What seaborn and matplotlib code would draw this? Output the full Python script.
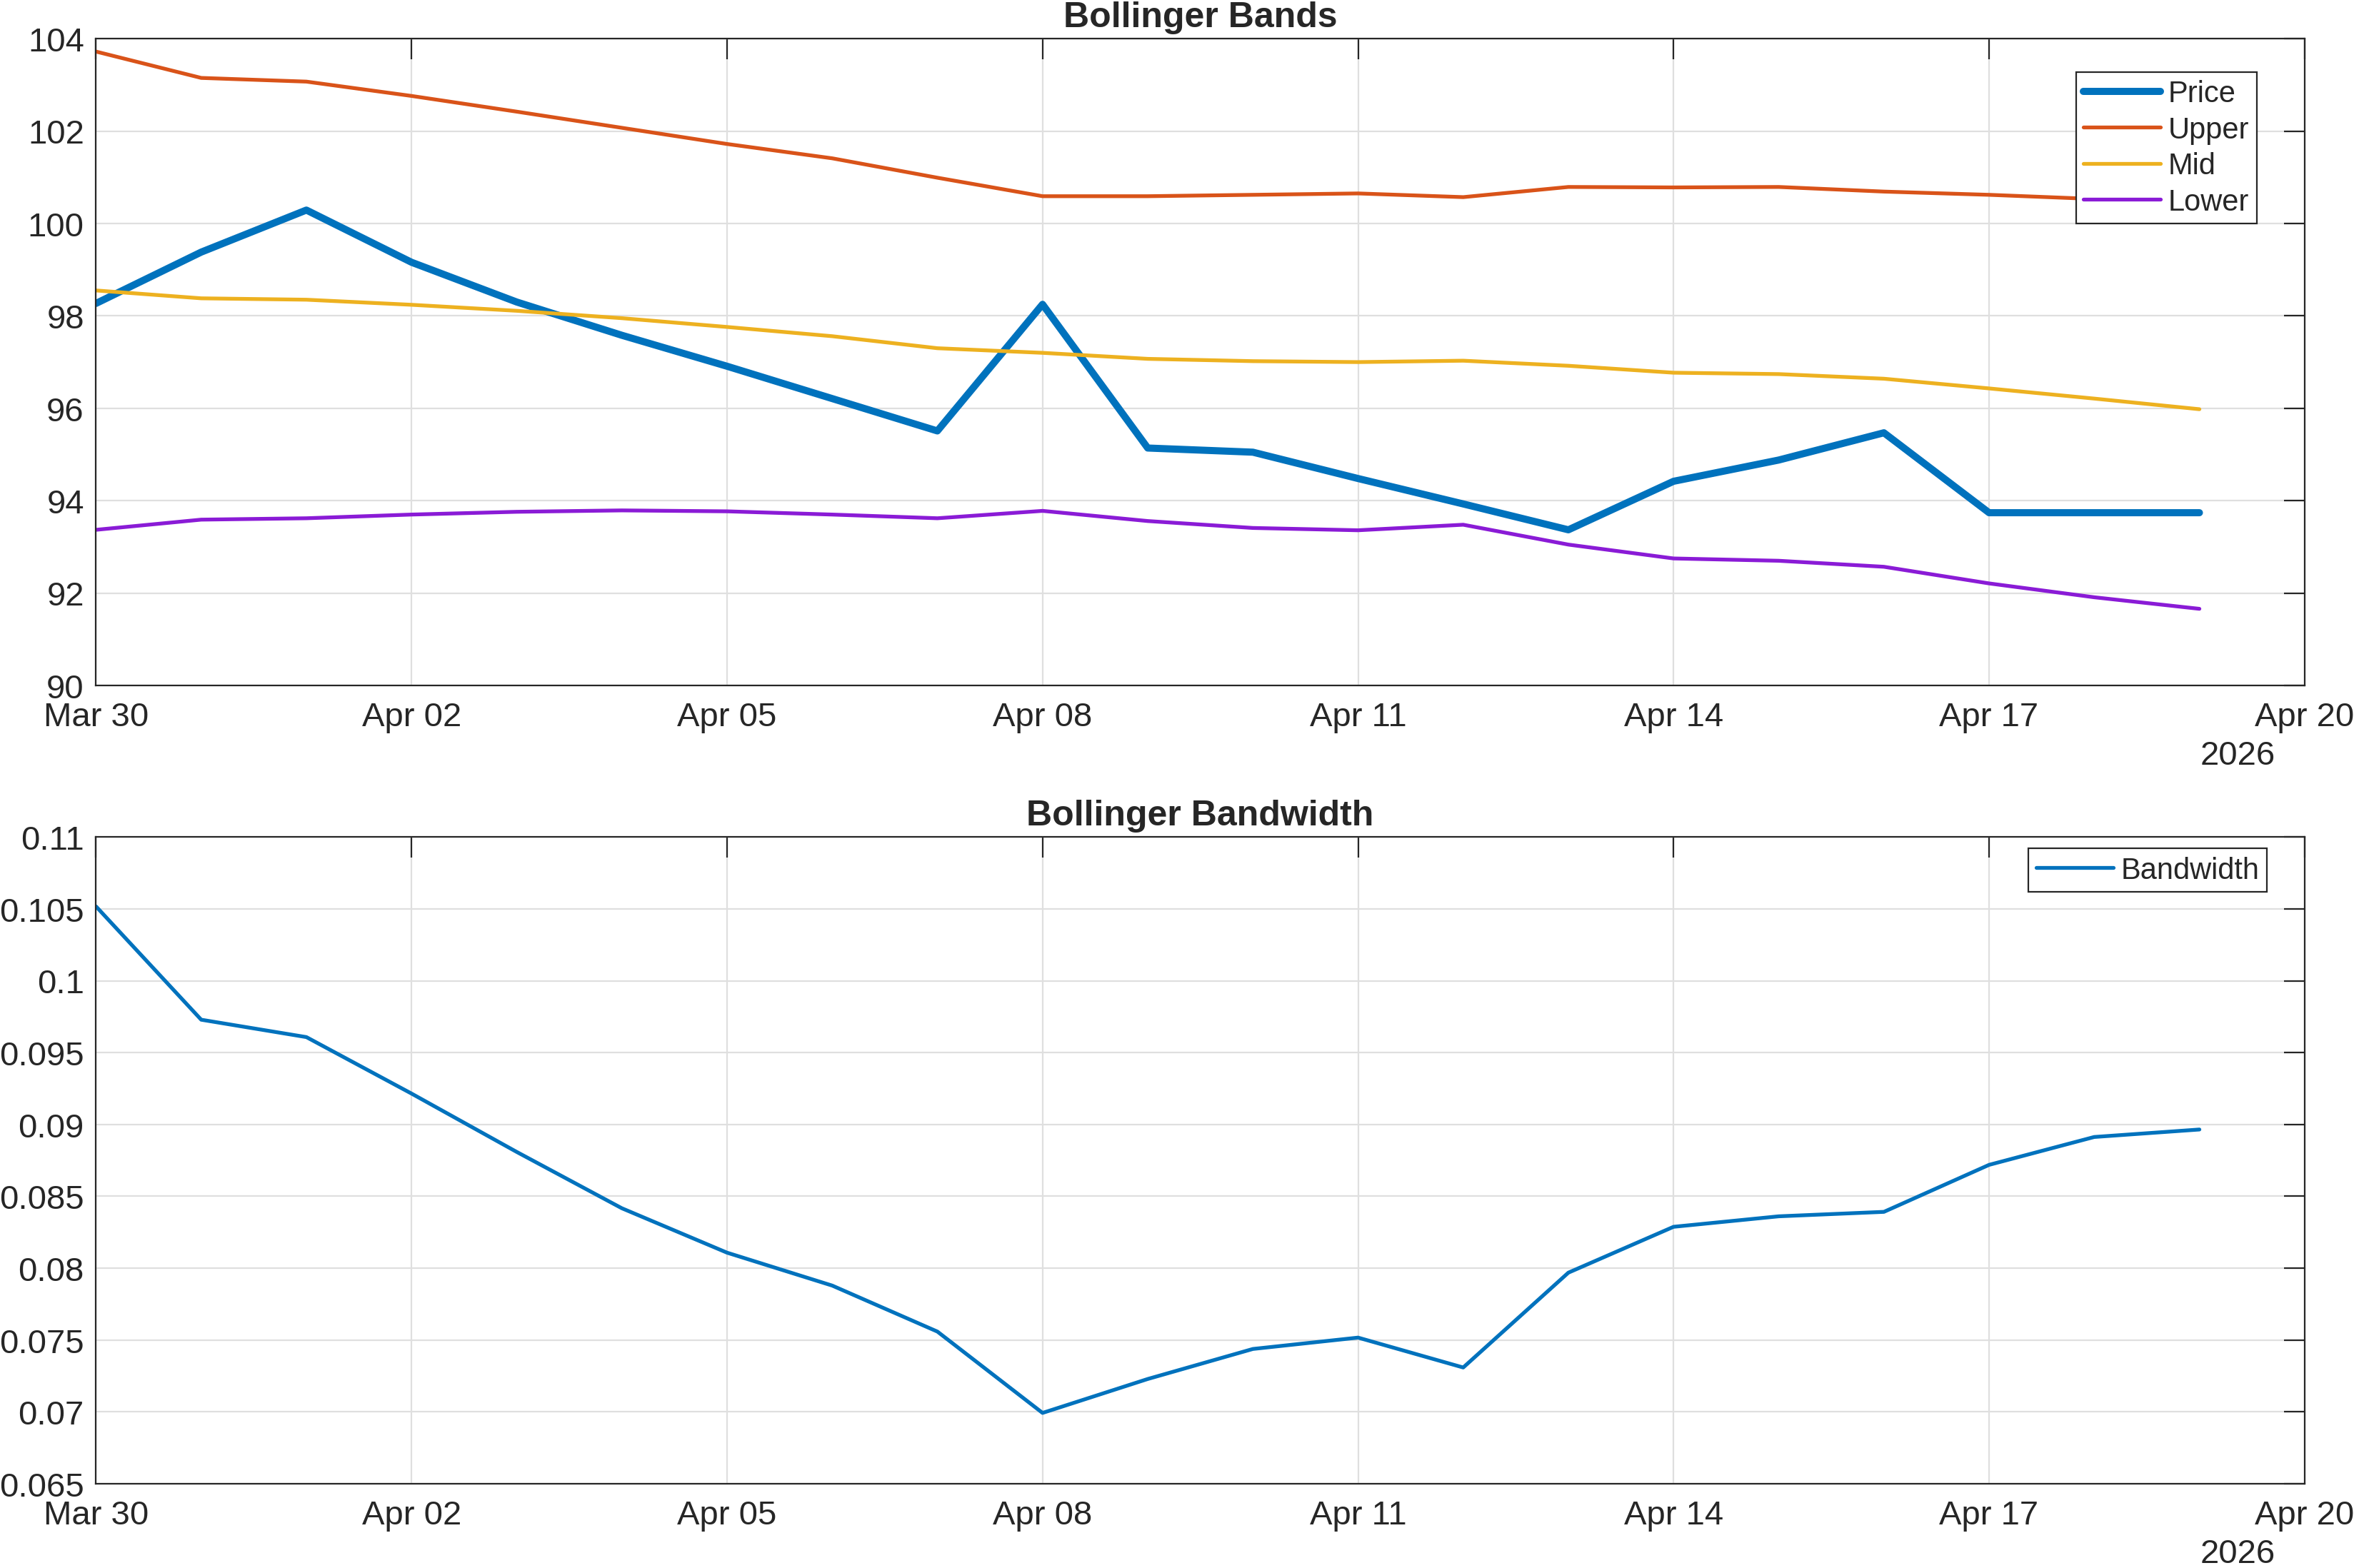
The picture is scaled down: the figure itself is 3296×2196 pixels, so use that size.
import matplotlib
matplotlib.use("Agg")
import matplotlib.pyplot as plt
import matplotlib.dates as mdates
from matplotlib.ticker import FuncFormatter
import pandas as pd
import seaborn as sns

# data (daily, Mar 30 - Apr 19 2026)
dates = pd.date_range("2026-03-30", "2026-04-19", freq="D")

price = [98.27, 99.38, 100.29, 99.16, 98.30, 97.58, 96.91, 96.21, 95.51, 98.25,
         95.14, 95.05, 94.48, 93.93, 93.37, 94.42, 94.88, 95.47, 93.74, 93.74, 93.74]
upper = [103.72, 103.15, 103.07, 102.76, 102.42, 102.07, 101.72, 101.41, 100.99, 100.59,
         100.59, 100.62, 100.65, 100.57, 100.79, 100.78, 100.79, 100.69, 100.62, 100.53, 100.45]
mid = [98.55, 98.38, 98.35, 98.24, 98.11, 97.95, 97.76, 97.56, 97.30, 97.20,
       97.07, 97.02, 97.00, 97.03, 96.92, 96.77, 96.74, 96.64, 96.43, 96.21, 95.98]
lower = [93.37, 93.59, 93.62, 93.70, 93.76, 93.79, 93.77, 93.70, 93.62, 93.78,
         93.56, 93.41, 93.36, 93.48, 93.05, 92.75, 92.70, 92.57, 92.21, 91.91, 91.66]
bandwidth = [0.10517, 0.09729, 0.09608, 0.09215, 0.08809, 0.08417, 0.08108, 0.07879,
             0.07559, 0.06993, 0.07229, 0.07438, 0.07517, 0.07309, 0.07969, 0.08288,
             0.08361, 0.08392, 0.08719, 0.08913, 0.08965]

tick_dates = pd.date_range("2026-03-30", "2026-04-20", freq="3D")
band_ticks = [90, 92, 94, 96, 98, 100, 102, 104]
bw_ticks = [0.065, 0.07, 0.075, 0.08, 0.085, 0.09, 0.095, 0.1, 0.105, 0.11]

colors = {"Price": "#0072BD", "Upper": "#D95319", "Mid": "#EDB120", "Lower": "#8A1BD6"}
dark = "#262626"

sns.set_theme(style="whitegrid")
plt.rcParams["font.family"] = ["Liberation Sans", "DejaVu Sans"]
plt.rcParams["text.color"] = dark
plt.rcParams["axes.labelcolor"] = dark

bands = pd.DataFrame({"Date": dates, "Price": price, "Upper": upper,
                      "Mid": mid, "Lower": lower})
bw = pd.DataFrame({"Date": dates, "Bandwidth": bandwidth})

fig = plt.figure(figsize=(16.48, 10.984), dpi=200)
ax1 = fig.add_axes([0.0408, 0.5626, 0.9382, 0.4124])
ax2 = fig.add_axes([0.0408, 0.0537, 0.9382, 0.4123])

for name in ["Price", "Upper", "Mid", "Lower"]:
    lw = 3.6 if name == "Price" else 1.9
    sns.lineplot(data=bands, x="Date", y=name, ax=ax1, color=colors[name],
                 linewidth=lw, label=name)

sns.lineplot(data=bw, x="Date", y="Bandwidth", ax=ax2, color="#0072BD",
             linewidth=1.9, label="Bandwidth")


def style_axes(ax, yticks, title, legend_anchor):
    ax.set_xlim(tick_dates[0], tick_dates[-1])
    ax.set_ylim(yticks[0], yticks[-1])
    ax.set_xticks(tick_dates)
    ax.set_yticks(yticks)
    ax.xaxis.set_major_formatter(mdates.DateFormatter("%b %d"))
    ax.set_xlabel("")
    ax.set_ylabel("")
    ax.set_facecolor("white")
    ax.grid(True, color="#DFDFDF", linewidth=0.8)
    for sp in ax.spines.values():
        sp.set_visible(True)
        sp.set_color(dark)
        sp.set_linewidth(0.8)
    ax.tick_params(axis="both", direction="in", length=10.5, width=0.8,
                   color=dark, labelcolor=dark, labelsize=17,
                   top=True, right=True, labeltop=False, labelright=False)
    ax.tick_params(axis="x", pad=8)
    ax.tick_params(axis="y", pad=6)
    ax.set_title(title, fontsize=18, fontweight="bold", color=dark, pad=6)
    leg = ax.legend(loc="upper right", bbox_to_anchor=legend_anchor,
                    fontsize=15, frameon=True, fancybox=False, borderaxespad=0,
                    handlelength=2.6, handletextpad=0.25, labelspacing=0.25,
                    borderpad=0.25)
    leg.get_frame().set_edgecolor(dark)
    leg.get_frame().set_linewidth(0.8)
    leg.get_frame().set_alpha(1)
    ax.annotate("2026", xy=(0.9696, 0), xycoords="axes fraction",
                xytext=(0, -27.5), textcoords="offset points",
                ha="center", va="top", fontsize=17, color=dark)


style_axes(ax1, band_ticks, "Bollinger Bands", (0.9783, 0.948))
style_axes(ax2, bw_ticks, "Bollinger Bandwidth", (0.9829, 0.9823))
ax2.yaxis.set_major_formatter(FuncFormatter(lambda v, p: f"{v:g}"))

fig.savefig("out.png", dpi=200, facecolor="white")
